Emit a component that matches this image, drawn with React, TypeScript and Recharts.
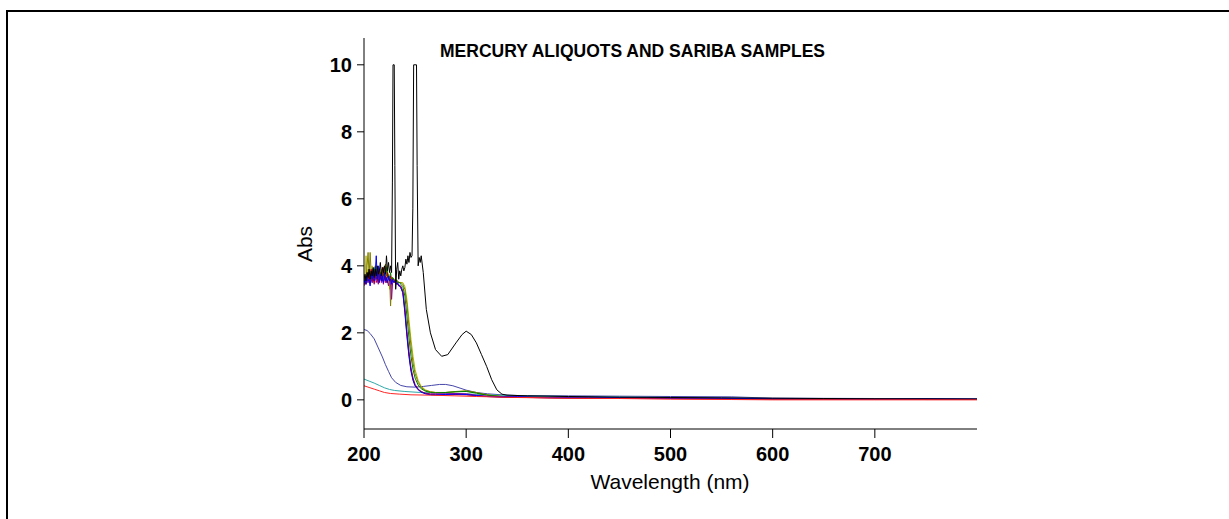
import React from 'react';
import { LineChart, Line, XAxis, YAxis } from 'recharts';

const FONT = "'Liberation Sans', Arial, sans-serif";

// wavelength grid (nm) for the noisy saturated part of the sample curves (1 nm steps)
const NOISE_X = [
  200, 201, 202, 203, 204, 205, 206, 207, 208, 209,
  210, 211, 212, 213, 214, 215, 216, 217, 218, 219,
  220, 221, 222, 223, 224, 225, 226, 227, 228, 229,
  230, 231, 232, 233, 234, 235, 236,
];
const DROP_X = [
  238, 240, 242, 244, 246, 248, 250, 253, 256, 260, 265, 270,
  280, 290, 300, 310, 320, 335, 350, 380, 420, 460, 500, 550,
  600, 650, 700, 750, 800,
];

const BLUE_NOISE = [3.5, 3.6, 3.45, 3.7, 3.55, 3.6, 3.4, 3.75, 3.6, 3.9, 3.55, 3.8, 4.3, 3.6, 4.0, 3.5, 3.75, 3.55, 3.7, 3.5, 3.8, 3.55, 3.65, 3.5, 3.7, 3.55, 3.6, 3.45, 3.6, 3.5, 3.55, 3.5, 3.45, 3.5, 3.4, 3.4, 3.35];
const BLUE_DROP = [3.2, 2.6, 1.9, 1.3, 0.85, 0.58, 0.42, 0.3, 0.23, 0.18, 0.15, 0.15, 0.16, 0.17, 0.16, 0.13, 0.1, 0.09, 0.1, 0.07, 0.08, 0.06, 0.05, 0.05, 0.03, 0.03, 0.02, 0.03, 0.02];

const DKRED_NOISE = [3.6, 3.45, 3.7, 3.55, 3.8, 3.5, 3.65, 3.9, 3.55, 3.7, 3.5, 3.85, 3.6, 3.75, 3.5, 3.9, 3.6, 3.7, 3.55, 3.95, 3.6, 3.7, 3.5, 3.8, 3.6, 3.55, 3.7, 3.5, 3.55, 3.6, 3.5, 3.55, 3.5, 3.45, 3.45, 3.4, 3.4];
const DKRED_DROP = [3.25, 2.75, 2.05, 1.45, 0.95, 0.65, 0.46, 0.32, 0.25, 0.19, 0.16, 0.15, 0.15, 0.16, 0.15, 0.12, 0.1, 0.08, 0.07, 0.06, 0.05, 0.05, 0.04, 0.03, 0.02, 0.02, 0.02, 0.01, 0.01];

const GREEN_NOISE = [3.45, 3.6, 3.7, 3.5, 3.8, 3.55, 3.65, 3.8, 3.5, 3.7, 3.95, 3.6, 3.75, 3.55, 3.9, 3.65, 3.8, 3.6, 3.7, 3.85, 3.6, 3.75, 3.95, 3.65, 3.7, 3.6, 3.8, 3.55, 3.65, 3.6, 3.55, 3.6, 3.55, 3.5, 3.5, 3.5, 3.45];
const GREEN_DROP = [3.38, 3.1, 2.5, 1.85, 1.3, 0.9, 0.65, 0.44, 0.33, 0.26, 0.22, 0.21, 0.22, 0.24, 0.25, 0.2, 0.14, 0.1, 0.08, 0.07, 0.06, 0.06, 0.05, 0.04, 0.03, 0.03, 0.02, 0.02, 0.02];

const OLIVE_NOISE = [3.5, 3.7, 3.6, 4.0, 4.4, 3.7, 4.4, 3.8, 3.6, 3.9, 3.7, 4.0, 3.6, 3.8, 3.65, 3.9, 3.75, 3.6, 3.95, 3.7, 3.8, 4.05, 3.7, 3.85, 3.6, 3.7, 2.8, 3.5, 3.65, 3.6, 3.55, 3.6, 3.55, 3.55, 3.5, 3.5, 3.5];
const OLIVE_DROP = [3.45, 3.3, 2.85, 2.2, 1.6, 1.1, 0.78, 0.52, 0.37, 0.28, 0.24, 0.22, 0.22, 0.25, 0.27, 0.22, 0.15, 0.1, 0.08, 0.07, 0.06, 0.05, 0.05, 0.04, 0.03, 0.03, 0.03, 0.02, 0.02];

const PURPLE_NOISE = [3.4, 3.55, 3.45, 3.6, 3.5, 3.7, 3.45, 3.6, 3.5, 3.65, 3.45, 3.7, 3.5, 3.6, 3.45, 3.55, 3.7, 3.5, 3.6, 3.45, 3.65, 3.5, 3.6, 3.55, 3.4, 3.6, 3.5, 3.0, 3.5, 3.55, 3.5, 3.5, 3.45, 3.45, 3.4, 3.4, 3.35];
const PURPLE_DROP = [3.2, 2.65, 1.95, 1.35, 0.9, 0.6, 0.43, 0.31, 0.24, 0.2, 0.18, 0.18, 0.18, 0.19, 0.18, 0.14, 0.11, 0.09, 0.08, 0.06, 0.05, 0.05, 0.04, 0.04, 0.03, 0.03, 0.02, 0.02, 0.02];

const YELLOW_NOISE = [3.55, 3.65, 4.3, 3.7, 3.9, 3.6, 3.8, 3.65, 4.0, 3.6, 3.85, 3.7, 3.6, 3.9, 3.7, 3.8, 3.6, 3.9, 3.75, 3.65, 3.8, 3.6, 4.0, 3.7, 3.75, 3.3, 3.6, 3.65, 3.6, 3.6, 3.6, 3.55, 3.55, 3.55, 3.5, 3.5, 3.5];
const YELLOW_DROP = [3.5, 3.38, 3.0, 2.4, 1.8, 1.3, 0.9, 0.58, 0.4, 0.3, 0.24, 0.22, 0.22, 0.24, 0.26, 0.21, 0.15, 0.1, 0.08, 0.07, 0.06, 0.05, 0.05, 0.04, 0.04, 0.03, 0.03, 0.02, 0.02];

// mercury aliquot with the two saturated spikes
const BLACK_X = [
  200, 201, 202, 203, 204, 205, 206, 207, 208, 209,
  210, 211, 212, 213, 214, 215, 216, 217, 218, 219,
  220, 221, 222, 223, 224, 225, 226, 227, 227.8, 228.4,
  229.6, 230.2, 231, 232, 233, 234, 235, 236, 237, 238,
  239, 240, 241, 242, 243, 244, 245, 246, 247, 247.8,
  248.6, 251.4, 252, 253, 254, 255, 256, 258, 261, 265,
  270, 276, 282, 290, 296, 300, 305, 310, 315, 320,
  325, 330, 335, 340, 360, 400, 450, 500, 550, 600,
  650, 700, 750, 800,
];
const BLACK_Y = [
  3.6, 3.75, 3.55, 3.8, 3.65, 3.9, 3.6, 3.85, 3.7, 3.95,
  3.65, 3.9, 3.7, 4.0, 3.75, 3.85, 4.1, 3.7, 3.95, 3.8,
  4.0, 3.75, 4.3, 3.85, 4.1, 3.8, 4.0, 3.8, 6.5, 10,
  10, 7, 3.3, 3.9, 4.1, 3.6, 3.85, 3.7, 3.9, 4.0,
  3.85, 3.95, 4.2, 4.05, 4.3, 4.1, 4.4, 4.25, 4.3, 5.7,
  10, 10, 7, 4.0, 4.25, 4.1, 4.3, 3.8, 2.7, 2.0,
  1.5, 1.3, 1.35, 1.7, 1.95, 2.05, 1.95, 1.7, 1.35, 1.0,
  0.6, 0.3, 0.17, 0.14, 0.12, 0.1, 0.08, 0.07, 0.06, 0.05,
  0.04, 0.03, 0.03, 0.02,
];

const NAVY_X = [200, 203, 206, 210, 214, 218, 221, 224, 227, 231, 236, 242, 250, 258, 266, 274, 280, 287, 294, 300, 310, 321, 335, 350, 400, 450, 500, 560, 600, 700, 800];
const NAVY_Y = [2.1, 2.07, 1.98, 1.82, 1.55, 1.28, 1.05, 0.85, 0.66, 0.52, 0.43, 0.39, 0.38, 0.4, 0.43, 0.46, 0.46, 0.42, 0.35, 0.29, 0.22, 0.18, 0.15, 0.13, 0.12, 0.11, 0.1, 0.09, 0.05, 0.04, 0.04];

const TEAL_X = [200, 205, 210, 215, 220, 225, 230, 240, 255, 272, 300, 321, 350, 400, 500, 600, 700, 800];
const TEAL_Y = [0.62, 0.56, 0.5, 0.43, 0.36, 0.31, 0.28, 0.25, 0.22, 0.2, 0.18, 0.15, 0.12, 0.1, 0.07, 0.04, 0.03, 0.02];

const RED_X = [200, 205, 210, 215, 220, 226, 235, 246, 265, 289, 310, 338, 400, 450, 500, 560, 600, 700, 800];
const RED_Y = [0.42, 0.37, 0.32, 0.27, 0.22, 0.19, 0.17, 0.15, 0.14, 0.12, 0.1, 0.08, 0.05, 0.04, 0.02, 0.01, 0, 0, 0];

const X_TICKS = [200, 300, 400, 500, 600, 700];
const Y_TICKS = [0, 2, 4, 6, 8, 10];

const pts = (xs: number[], ys: number[]) => xs.map((x, i) => ({ x, y: ys[i] }));
const BUNCH_X = [...NOISE_X, ...DROP_X];

const SERIES = [
  { key: 'navy', color: '#4646aa', data: pts(NAVY_X, NAVY_Y) },
  { key: 'teal', color: '#2fa8a8', data: pts(TEAL_X, TEAL_Y) },
  { key: 'yellow', color: '#b4b400', data: pts(BUNCH_X, [...YELLOW_NOISE, ...YELLOW_DROP]) },
  { key: 'olive', color: '#808000', data: pts(BUNCH_X, [...OLIVE_NOISE, ...OLIVE_DROP]) },
  { key: 'green', color: '#008000', data: pts(BUNCH_X, [...GREEN_NOISE, ...GREEN_DROP]) },
  { key: 'purple', color: '#990099', data: pts(BUNCH_X, [...PURPLE_NOISE, ...PURPLE_DROP]) },
  { key: 'dkred', color: '#b00000', data: pts(BUNCH_X, [...DKRED_NOISE, ...DKRED_DROP]) },
  { key: 'blue', color: '#0000ff', data: pts(BUNCH_X, [...BLUE_NOISE, ...BLUE_DROP]) },
  { key: 'black', color: '#000000', data: pts(BLACK_X, BLACK_Y) },
  { key: 'red', color: '#ff2424', data: pts(RED_X, RED_Y) },
];

const TICK = { fill: '#000', fontSize: 20, fontWeight: 700, fontFamily: FONT };

export default function App() {
  return (
    <div style={{ position: 'absolute', left: 0, top: 0, width: 1229, height: 519, overflow: 'hidden', background: '#fff' }}>
      <div style={{ position: 'absolute', left: 6, top: 10, width: 1300, height: 600, borderLeft: '2px solid #000', borderTop: '2px solid #000' }} />
      <LineChart width={1229} height={519} margin={{ top: 38, right: 252, bottom: 60, left: 304 }}>
        <XAxis
          type="number"
          dataKey="x"
          domain={[200, 800]}
          ticks={X_TICKS}
          allowDataOverflow
          height={30}
          tickSize={9}
          tickMargin={9}
          stroke="#000"
          tick={TICK}
        />
        <YAxis
          type="number"
          dataKey="y"
          domain={[-0.87, 10.8]}
          ticks={Y_TICKS}
          allowDataOverflow
          width={60}
          tickSize={7}
          tickMargin={5}
          stroke="#000"
          tick={TICK}
        />
        {SERIES.map(s => (
          <Line
            key={s.key}
            data={s.data}
            dataKey="y"
            type="linear"
            stroke={s.color}
            strokeWidth={1}
            dot={false}
            isAnimationActive={false}
          />
        ))}
      </LineChart>
      <div style={{ position: 'absolute', left: 440, top: 41, fontFamily: FONT, fontSize: 17.5, lineHeight: '20px', fontWeight: 700, whiteSpace: 'nowrap' }}>
        MERCURY ALIQUOTS AND SARIBA SAMPLES
      </div>
      <div style={{ position: 'absolute', left: 305, top: 244, transform: 'translate(-50%, -50%) rotate(-90deg)', fontFamily: FONT, fontSize: 21, lineHeight: '24px', whiteSpace: 'nowrap' }}>
        Abs
      </div>
      <div style={{ position: 'absolute', left: 670, top: 470, transform: 'translateX(-50%)', fontFamily: FONT, fontSize: 21, lineHeight: '24px', whiteSpace: 'nowrap' }}>
        Wavelength (nm)
      </div>
    </div>
  );
}
